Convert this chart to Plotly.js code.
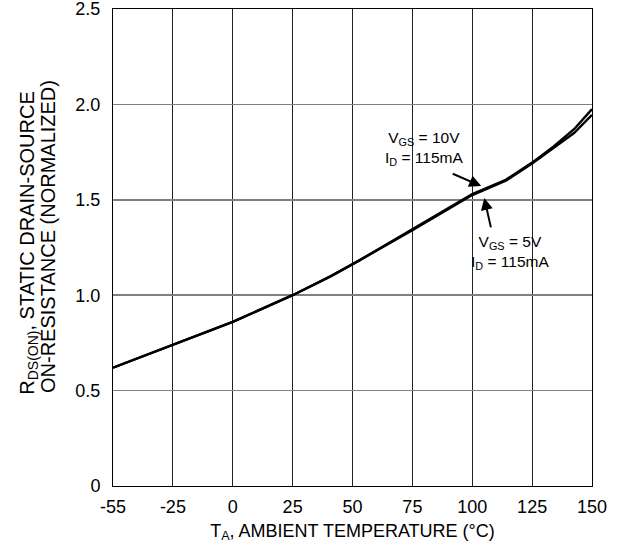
<!DOCTYPE html>
<html>
<head>
<meta charset="utf-8">
<script src="https://cdn.plot.ly/plotly-3.0.1.min.js"></script>
<style>html,body{margin:0;padding:0;background:#fff;}#chart{width:621px;height:550px;}</style>
</head>
<body>
<div id="chart"></div>
<script>
// Tick labels (evenly spaced on the original graph)
const tickLabels = ['-55', '-25', '0', '25', '50', '75', '100', '125', '150'];
const tickTemps = [-55, -25, 0, 25, 50, 75, 100, 125, 150];
const yTickVals = [0, 0.5, 1.0, 1.5, 2.0, 2.5];
const yTickLabels = ['0', '0.5', '1.0', '1.5', '2.0', '2.5'];

// Series: VGS = 10V, ID = 115mA
const temp10 = [-55, -40, -25, -12, 0, 25, 41, 52.5, 75, 100, 114, 125, 134, 142.5, 150];
const rds10  = [0.62, 0.68, 0.74, 0.80, 0.86, 1.00, 1.10, 1.18, 1.34, 1.525, 1.60, 1.69, 1.77, 1.85, 1.945];

// Series: VGS = 5V, ID = 115mA
const temp5 = [-55, -40, -25, -12, 0, 25, 41, 52.5, 75, 100, 114, 125, 134, 142.5, 150];
const rds5  = [0.62, 0.68, 0.74, 0.80, 0.86, 1.00, 1.10, 1.18, 1.345, 1.53, 1.605, 1.695, 1.78, 1.87, 1.975];

// Map temperature onto the evenly spaced tick grid of the original plot
function pos(t) {
  for (let i = 0; i < tickTemps.length - 1; i++) {
    const a = tickTemps[i], b = tickTemps[i + 1];
    if (t <= b || i === tickTemps.length - 2) return i + (t - a) / (b - a);
  }
}

const font = 'Liberation Sans, Arial, Helvetica, sans-serif';

const traces = [
  {x: temp10.map(pos), y: rds10, mode: 'lines', line: {color: '#000', width: 2.4}, name: 'VGS=10V', hoverinfo: 'skip'},
  {x: temp5.map(pos), y: rds5, mode: 'lines', line: {color: '#000', width: 2.4}, name: 'VGS=5V', hoverinfo: 'skip'}
];

const layout = {
  width: 621, height: 550,
  margin: {l: 113, r: 29, t: 9, b: 64},
  paper_bgcolor: '#fff', plot_bgcolor: '#fff',
  showlegend: false,
  font: {family: font, color: '#000', size: 18},
  xaxis: {
    range: [0, 8],
    tickvals: tickTemps.map(pos), ticktext: tickLabels,
    showgrid: true, gridcolor: '#222', gridwidth: 1,
    showline: true, linecolor: '#000', linewidth: 1, mirror: true,
    ticks: 'outside', ticklen: 4, tickcolor: 'rgba(0,0,0,0)', zeroline: false,
    ticklabeloverflow: 'allow',
    tickfont: {size: 18, family: font},
    title: {text: 'T<sub>A</sub>, AMBIENT TEMPERATURE (°C)', font: {size: 18, family: font}, standoff: 8}
  },
  yaxis: {
    range: [0, 2.5],
    tickvals: yTickVals, ticktext: yTickLabels,
    showgrid: true, gridcolor: '#808080', gridwidth: 1.5,
    showline: true, linecolor: '#000', linewidth: 1, mirror: true,
    ticks: 'outside', ticklen: 8, tickcolor: 'rgba(0,0,0,0)',
    zeroline: false,
    ticklabeloverflow: 'allow',
    tickfont: {size: 18, family: font}
  },
  annotations: [
    {xref: 'paper', yref: 'paper', x: 0, y: 0.51, xanchor: 'center', yanchor: 'middle', xshift: -84,
     textangle: -90, showarrow: false,
     text: 'R<sub>DS(ON)</sub>, STATIC DRAIN-SOURCE',
     font: {size: 20, family: font}},
    {xref: 'paper', yref: 'paper', x: 0, y: 0.522, xanchor: 'center', yanchor: 'middle', xshift: -65,
     textangle: -90, showarrow: false,
     text: 'ON-RESISTANCE (NORMALIZED)',
     font: {size: 20, family: font}},
    {x: pos(80), y: 1.77, xref: 'x', yref: 'y', showarrow: false,
     text: 'V<sub>GS</sub> = 10V<br>I<sub>D</sub> = 115mA', font: {size: 15.5, family: font}, align: 'center'},
    {x: pos(115.8), y: 1.226, xref: 'x', yref: 'y', showarrow: false,
     text: 'V<sub>GS</sub> = 5V<br>I<sub>D</sub> = 115mA', font: {size: 15.5, family: font}, align: 'center'},
    {x: pos(103.75), y: 1.572, xref: 'x', yref: 'y', text: '', showarrow: true,
     ax: -30, ay: -13, arrowhead: 2, arrowsize: 1.2, arrowwidth: 2, arrowcolor: '#000'},
    {x: pos(105), y: 1.51, xref: 'x', yref: 'y', text: '', showarrow: true,
     ax: 7, ay: 31, arrowhead: 2, arrowsize: 1.2, arrowwidth: 2, arrowcolor: '#000'}
  ]
};

Plotly.newPlot('chart', traces, layout, {staticPlot: true, displayModeBar: false});
</script>
</body>
</html>
